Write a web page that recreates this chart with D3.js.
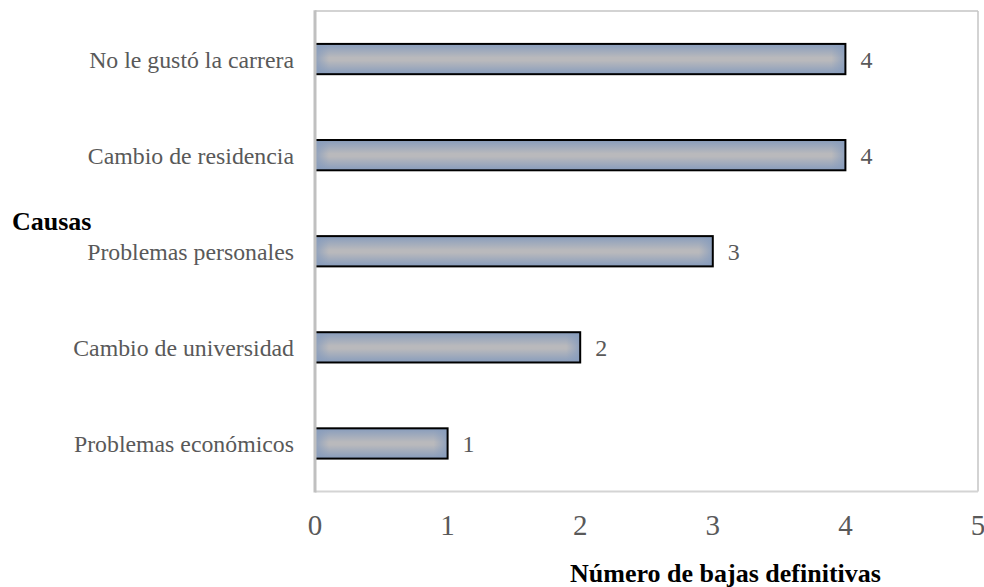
<!DOCTYPE html>
<html>
<head>
<meta charset="utf-8">
<script src="https://cdn.jsdelivr.net/npm/d3@7"></script>
<style>
  html, body { margin: 0; padding: 0; background: #fff; }
  svg { display: block; }
</style>
</head>
<body>
<svg id="chart" width="984" height="587"></svg>
<script>
const categories = [
  "No le gustó la carrera",
  "Cambio de residencia",
  "Problemas personales",
  "Cambio de universidad",
  "Problemas económicos"
];
const values = [4, 4, 3, 2, 1];
const xTicks = [0, 1, 2, 3, 4, 5];
const yTitle = "Causas";
const xTitle = "Número de bajas definitivas";

const svg = d3.select("#chart");
const pLeft = 315, pRight = 978, pTop = 11, pBottom = 491.5;

const x = d3.scaleLinear().domain([0, 5]).range([pLeft, pRight]);
const y = d3.scaleBand().domain(categories).range([pTop, pBottom])
  .paddingInner(0.685).paddingOuter(0.3425);

const defs = svg.append("defs");
const vg = defs.append("linearGradient").attr("id", "vgrad")
  .attr("x1", 0).attr("y1", 0).attr("x2", 0).attr("y2", 1);
vg.append("stop").attr("offset", "0%").attr("stop-color", "#879cbc");
vg.append("stop").attr("offset", "45%").attr("stop-color", "#b9b9bc");
vg.append("stop").attr("offset", "55%").attr("stop-color", "#b9b9bc");
vg.append("stop").attr("offset", "100%").attr("stop-color", "#879cbc");

// frame
svg.append("line").attr("x1", pLeft).attr("x2", pRight).attr("y1", pTop).attr("y2", pTop)
  .attr("stroke", "#c4c4c4").attr("stroke-width", 1.5);
svg.append("line").attr("x1", pRight).attr("x2", pRight).attr("y1", pTop).attr("y2", pBottom)
  .attr("stroke", "#c4c4c4").attr("stroke-width", 1.5);
svg.append("line").attr("x1", pLeft).attr("x2", pRight).attr("y1", pBottom).attr("y2", pBottom)
  .attr("stroke", "#d4d4d4").attr("stroke-width", 1.8);

// bars
const data = categories.map((c, i) => ({c, v: values[i], i}));
data.forEach(d => {
  const w = x(d.v) - x(0);
  const hg = defs.append("linearGradient").attr("id", "hgrad" + d.i)
    .attr("x1", 0).attr("y1", 0).attr("x2", 1).attr("y2", 0);
  const f = Math.min(0.3, 14 / w);
  hg.append("stop").attr("offset", 0).attr("stop-color", "#879cbc").attr("stop-opacity", 0.85);
  hg.append("stop").attr("offset", f).attr("stop-color", "#879cbc").attr("stop-opacity", 0);
  hg.append("stop").attr("offset", 1 - f).attr("stop-color", "#879cbc").attr("stop-opacity", 0);
  hg.append("stop").attr("offset", 1).attr("stop-color", "#879cbc").attr("stop-opacity", 0.85);
});

const g = svg.append("g");
g.selectAll("rect.base").data(data).join("rect").attr("class", "base")
  .attr("x", x(0)).attr("y", d => y(d.c))
  .attr("width", d => x(d.v) - x(0)).attr("height", y.bandwidth())
  .attr("fill", "url(#vgrad)");
g.selectAll("rect.over").data(data).join("rect").attr("class", "over")
  .attr("x", x(0)).attr("y", d => y(d.c))
  .attr("width", d => x(d.v) - x(0)).attr("height", y.bandwidth())
  .attr("fill", d => "url(#hgrad" + d.i + ")")
  .attr("stroke", "#000").attr("stroke-width", 2);

// left axis line (drawn over bars' left edge)
svg.append("line").attr("x1", pLeft).attr("x2", pLeft).attr("y1", pTop - 0.7).attr("y2", pBottom + 0.9)
  .attr("stroke", "#c0c0c0").attr("stroke-width", 3);

// value labels
g.selectAll("text.val").data(data).join("text").attr("class", "val")
  .attr("x", d => x(d.v) + 15)
  .attr("y", d => y(d.c) + y.bandwidth() / 2 + 9)
  .attr("font-family", "Liberation Serif, Times New Roman, serif")
  .attr("font-size", 24).attr("fill", "#595959")
  .text(d => d.v);

// category labels
svg.append("g").selectAll("text").data(categories).join("text")
  .attr("x", 294)
  .attr("y", d => y(d) + y.bandwidth() / 2 + 8.5)
  .attr("text-anchor", "end")
  .attr("font-family", "Liberation Serif, Times New Roman, serif")
  .attr("font-size", 23.8).attr("fill", "#595959")
  .text(d => d);

// x tick labels
svg.append("g").selectAll("text").data(xTicks).join("text")
  .attr("x", d => x(d))
  .attr("y", 535)
  .attr("text-anchor", "middle")
  .attr("font-family", "Liberation Serif, Times New Roman, serif")
  .attr("font-size", 29).attr("fill", "#595959")
  .text(d => d);

// titles
svg.append("text").attr("x", 12).attr("y", 229.5)
  .attr("font-family", "Liberation Serif, Times New Roman, serif")
  .attr("font-weight", "bold").attr("font-size", 26).attr("fill", "#000")
  .text(yTitle);
svg.append("text").attr("x", 725.5).attr("y", 581.5)
  .attr("text-anchor", "middle")
  .attr("font-family", "Liberation Serif, Times New Roman, serif")
  .attr("font-weight", "bold").attr("font-size", 26).attr("fill", "#000")
  .text(xTitle);
</script>
</body>
</html>
